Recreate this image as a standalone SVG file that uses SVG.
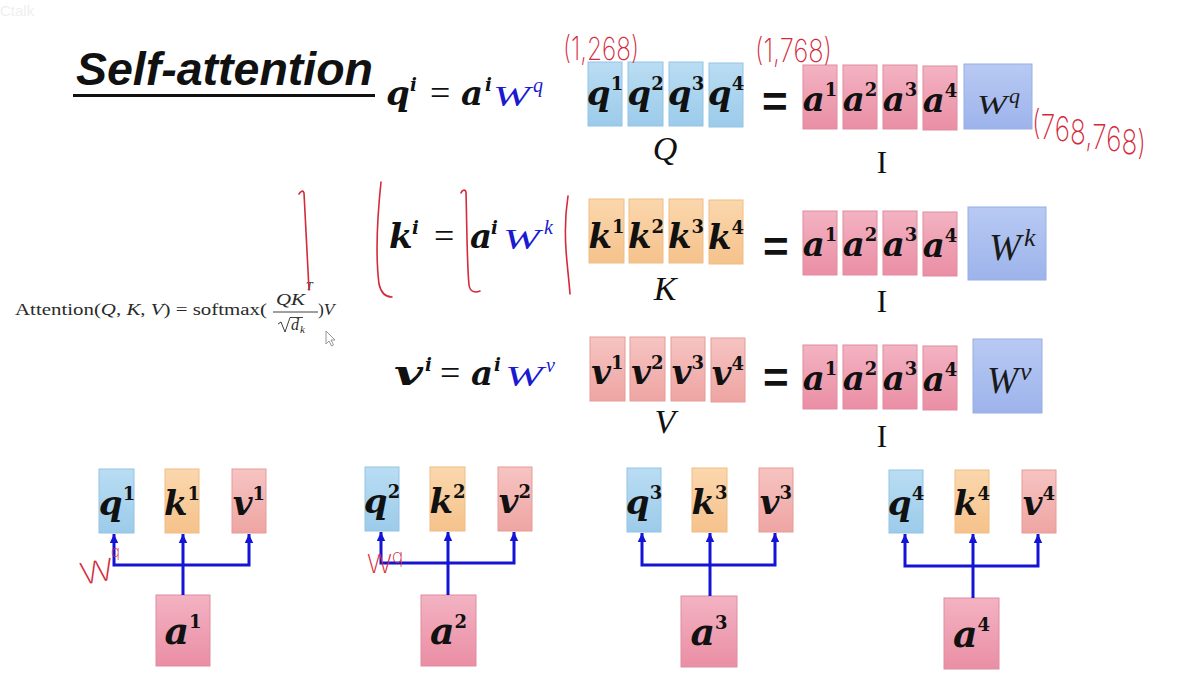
<svg xmlns="http://www.w3.org/2000/svg" width="1178" height="689" viewBox="0 0 1178 689">
<defs>
<linearGradient id="gq" x1="0" y1="0" x2="0" y2="1"><stop offset="0" stop-color="#b9ddf3"/><stop offset="1" stop-color="#9ccbea"/></linearGradient>
<linearGradient id="gk" x1="0" y1="0" x2="0" y2="1"><stop offset="0" stop-color="#fbd7ad"/><stop offset="1" stop-color="#f5c28b"/></linearGradient>
<linearGradient id="gv" x1="0" y1="0" x2="0" y2="1"><stop offset="0" stop-color="#f6c4c2"/><stop offset="1" stop-color="#eea5a2"/></linearGradient>
<linearGradient id="ga" x1="0" y1="0" x2="0" y2="1"><stop offset="0" stop-color="#f3b3c2"/><stop offset="1" stop-color="#ea8ea5"/></linearGradient>
<linearGradient id="gw" x1="0" y1="0" x2="0" y2="1"><stop offset="0" stop-color="#b8caf3"/><stop offset="1" stop-color="#9db3eb"/></linearGradient>
<marker id="ar" viewBox="0 0 9 9" refX="9" refY="4.5" markerWidth="9" markerHeight="9" markerUnits="userSpaceOnUse" orient="auto"><path d="M0,0.3 L9,4.5 L0,8.7 z" fill="#1414d4"/></marker>
</defs>
<style>
.qb{fill:url(#gq);stroke:#93c3e4;stroke-width:1}
.kb{fill:url(#gk);stroke:#efbd86;stroke-width:1}
.vb{fill:url(#gv);stroke:#e59c99;stroke-width:1}
.ab{fill:url(#ga);stroke:#e08ba0;stroke-width:1}
.wb{fill:url(#gw);stroke:#98aee4;stroke-width:1}
.m{font-family:"DejaVu Serif",serif;font-weight:bold;font-style:italic;font-size:34px;fill:#111}
.s{font-size:18px;font-style:normal}
.si{font-size:18px}
.ba{font-size:38px}
.w{font-family:"Liberation Serif",serif;font-style:italic;font-weight:normal;fill:#1a1ad0}
.wk{font-family:"Liberation Serif",serif;font-style:italic;font-weight:normal;fill:#1a1a1a}
.req{font-family:"Liberation Serif",serif;font-size:36px;fill:#111}
.lbl{font-family:"Liberation Serif",serif;font-style:italic;font-size:34px;fill:#111;text-anchor:middle}
.I{font-family:"Liberation Serif",serif;font-size:31px;fill:#111;text-anchor:middle}
.eq{font-family:"Liberation Sans",sans-serif;font-weight:bold;font-size:44px;fill:#111}
.hw{font-family:Inter,"DejaVu Sans",sans-serif;font-weight:200;fill:#d42a3c}
.red{fill:none;stroke:#d42a3c;stroke-width:1.6;stroke-linecap:round;stroke-linejoin:round}
.f{font-family:"Liberation Serif",serif;fill:#2a2a2a}
.c{fill:none;stroke:#1414d4;stroke-width:3;stroke-linejoin:miter}
</style>
<rect width="1178" height="689" fill="#ffffff"/>
<text x="0" y="16" font-family="Liberation Sans,sans-serif" font-size="15" fill="#efefef">Ctalk</text>

<g id="title">
<text x="76" y="85" font-family="Liberation Sans,sans-serif" font-weight="bold" font-style="italic" font-size="47" fill="#111" textLength="297" lengthAdjust="spacingAndGlyphs">Self-attention</text>
<rect x="73" y="94" width="302" height="3" fill="#111"/>
</g>

<g id="formula-q">
<text class="m" x="386" y="105">q</text><text class="m si" x="410" y="91">i</text>
<text class="req" x="430" y="105">=</text>
<text class="m" x="461" y="105">a</text><text class="m si" x="485" y="91">i</text>
<text class="w" x="493" y="106" font-size="30" textLength="37" lengthAdjust="spacingAndGlyphs">W</text><text class="w" x="533" y="92" font-size="20">q</text>
</g>
<g id="formula-k">
<text class="m" x="389" y="248">k</text><text class="m si" x="412" y="234">i</text>
<text class="req" x="434" y="248">=</text>
<text class="m" x="470" y="248">a</text><text class="m si" x="491" y="234">i</text>
<text class="w" x="503" y="249" font-size="30" textLength="37" lengthAdjust="spacingAndGlyphs">W</text><text class="w" x="544" y="234" font-size="20">k</text>
</g>
<g id="formula-v">
<text class="m" x="394" y="385" textLength="29" lengthAdjust="spacingAndGlyphs">v</text><text class="m si" x="425" y="371">i</text>
<text class="req" x="440" y="385">=</text>
<text class="m" x="471" y="385">a</text><text class="m si" x="494" y="371">i</text>
<text class="w" x="505" y="386" font-size="30" textLength="38" lengthAdjust="spacingAndGlyphs">W</text><text class="w" x="546" y="372" font-size="20">v</text>
</g>

<g id="Q">
<rect class="qb" x="588" y="62" width="34" height="64"/><text class="m" x="605" y="105" text-anchor="middle">q<tspan class="s" dy="-15">1</tspan></text>
<rect class="qb" x="628" y="62" width="35" height="64"/><text class="m" x="645.5" y="105" text-anchor="middle">q<tspan class="s" dy="-15">2</tspan></text>
<rect class="qb" x="669" y="62" width="34" height="64"/><text class="m" x="686" y="105" text-anchor="middle">q<tspan class="s" dy="-15">3</tspan></text>
<rect class="qb" x="709" y="63" width="34" height="64"/><text class="m" x="726" y="105" text-anchor="middle">q<tspan class="s" dy="-15">4</tspan></text>
<text class="lbl" x="665" y="160">Q</text>
</g>
<g id="K">
<rect class="kb" x="589" y="199" width="35" height="64"/><text class="m" x="606.5" y="248" text-anchor="middle">k<tspan class="s" dy="-15">1</tspan></text>
<rect class="kb" x="629" y="199" width="34" height="64"/><text class="m" x="646" y="248" text-anchor="middle">k<tspan class="s" dy="-15">2</tspan></text>
<rect class="kb" x="669" y="199" width="34" height="64"/><text class="m" x="686" y="248" text-anchor="middle">k<tspan class="s" dy="-15">3</tspan></text>
<rect class="kb" x="709" y="200" width="34" height="64"/><text class="m" x="726" y="249" text-anchor="middle">k<tspan class="s" dy="-15">4</tspan></text>
<text class="lbl" x="665" y="300">K</text>
</g>
<g id="V">
<rect class="vb" x="590" y="337" width="35" height="64"/><text class="m" x="607.5" y="384" text-anchor="middle">v<tspan class="s" dy="-15">1</tspan></text>
<rect class="vb" x="630" y="337" width="35" height="64"/><text class="m" x="647.5" y="384" text-anchor="middle">v<tspan class="s" dy="-15">2</tspan></text>
<rect class="vb" x="671" y="337" width="34" height="64"/><text class="m" x="688" y="384" text-anchor="middle">v<tspan class="s" dy="-15">3</tspan></text>
<rect class="vb" x="711" y="338" width="34" height="64"/><text class="m" x="728" y="385" text-anchor="middle">v<tspan class="s" dy="-15">4</tspan></text>
<text class="lbl" x="665" y="433">V</text>
</g>

<g id="eq-signs">
<text class="eq" x="762" y="117">=</text>
<text class="eq" x="763" y="262">=</text>
<text class="eq" x="763" y="393">=</text>
</g>

<g id="I-q">
<rect class="ab" x="803" y="65" width="34" height="64"/><text class="m" x="820" y="111" text-anchor="middle">a<tspan class="s" dy="-15">1</tspan></text>
<rect class="ab" x="843" y="65" width="34" height="64"/><text class="m" x="860" y="111" text-anchor="middle">a<tspan class="s" dy="-15">2</tspan></text>
<rect class="ab" x="883" y="65" width="34" height="64"/><text class="m" x="900" y="111" text-anchor="middle">a<tspan class="s" dy="-15">3</tspan></text>
<rect class="ab" x="923" y="66" width="34" height="64"/><text class="m" x="940" y="112" text-anchor="middle">a<tspan class="s" dy="-15">4</tspan></text>
<text class="I" x="882" y="173">I</text>
</g>
<g id="Wq">
<rect class="wb" x="964" y="64" width="68" height="65"/>
<text class="wk" x="977" y="114" font-size="28" textLength="30" lengthAdjust="spacingAndGlyphs">W</text><text class="wk" x="1009" y="103" font-size="22">q</text>
</g>
<g id="I-k">
<rect class="ab" x="803" y="211" width="34" height="64"/><text class="m" x="820" y="256" text-anchor="middle">a<tspan class="s" dy="-15">1</tspan></text>
<rect class="ab" x="843" y="211" width="34" height="64"/><text class="m" x="860" y="256" text-anchor="middle">a<tspan class="s" dy="-15">2</tspan></text>
<rect class="ab" x="883" y="211" width="34" height="64"/><text class="m" x="900" y="256" text-anchor="middle">a<tspan class="s" dy="-15">3</tspan></text>
<rect class="ab" x="923" y="212" width="34" height="64"/><text class="m" x="940" y="257" text-anchor="middle">a<tspan class="s" dy="-15">4</tspan></text>
<text class="I" x="882" y="312">I</text>
</g>
<g id="Wk">
<rect class="wb" x="968" y="207" width="78" height="73"/>
<text class="wk" x="989" y="260" font-size="37" textLength="32" lengthAdjust="spacingAndGlyphs">W</text><text class="wk" x="1024" y="246" font-size="26">k</text>
</g>
<g id="I-v">
<rect class="ab" x="803" y="345" width="34" height="64"/><text class="m" x="820" y="390" text-anchor="middle">a<tspan class="s" dy="-15">1</tspan></text>
<rect class="ab" x="843" y="345" width="34" height="64"/><text class="m" x="860" y="390" text-anchor="middle">a<tspan class="s" dy="-15">2</tspan></text>
<rect class="ab" x="883" y="345" width="34" height="64"/><text class="m" x="900" y="390" text-anchor="middle">a<tspan class="s" dy="-15">3</tspan></text>
<rect class="ab" x="923" y="346" width="34" height="64"/><text class="m" x="940" y="391" text-anchor="middle">a<tspan class="s" dy="-15">4</tspan></text>
<text class="I" x="882" y="447">I</text>
</g>
<g id="Wv">
<rect class="wb" x="973" y="339" width="69" height="74"/>
<text class="wk" x="987" y="393" font-size="37" textLength="31" lengthAdjust="spacingAndGlyphs">W</text><text class="wk" x="1020" y="380" font-size="26">v</text>
</g>

<g id="attention-formula">
<text class="f" x="15" y="315" font-size="17.5" textLength="252" lengthAdjust="spacingAndGlyphs">Attention(<tspan font-style="italic">Q</tspan>, <tspan font-style="italic">K</tspan>, <tspan font-style="italic">V</tspan>) = softmax(</text>
<text class="f" x="276" y="305" font-size="17.5" font-style="italic" textLength="29" lengthAdjust="spacingAndGlyphs">QK</text>
<text class="f" x="306" y="290" font-size="12" font-style="italic">T</text>
<line x1="273" y1="312" x2="318" y2="312" stroke="#2a2a2a" stroke-width="0.9"/>
<path d="M278,324 L281,322 L285,332 L290,317.5 L303,317.5" fill="none" stroke="#2a2a2a" stroke-width="0.9"/>
<text class="f" x="291" y="330" font-size="16" font-style="italic">d</text>
<text class="f" x="300" y="333" font-size="11" font-style="italic">k</text>
<text class="f" x="318" y="315" font-size="17.5">)<tspan font-style="italic">V</tspan></text>
<path d="M326,331 L326,344 L329,341 L331.5,346 L333.5,345 L331,340 L335,340 Z" fill="#fff" stroke="#8a8a8a" stroke-width="0.9"/>
</g>

<g id="group1">
<rect class="qb" x="99" y="469" width="35" height="64"/><text class="m" x="117" y="515" text-anchor="middle">q<tspan class="s" dy="-15">1</tspan></text>
<rect class="kb" x="165" y="469" width="34" height="64"/><text class="m" x="182" y="515" text-anchor="middle">k<tspan class="s" dy="-15">1</tspan></text>
<rect class="vb" x="232" y="469" width="34" height="64"/><text class="m" x="249" y="515" text-anchor="middle">v<tspan class="s" dy="-15">1</tspan></text>
<rect class="ab" x="156" y="595" width="54" height="71"/><text class="m ba" x="183" y="644" text-anchor="middle">a<tspan class="s" font-size="20" dy="-16">1</tspan></text>
</g>
<g id="group2">
<rect class="qb" x="365" y="467" width="34" height="64"/><text class="m" x="382" y="513" text-anchor="middle">q<tspan class="s" dy="-15">2</tspan></text>
<rect class="kb" x="430" y="467" width="35" height="64"/><text class="m" x="447.5" y="513" text-anchor="middle">k<tspan class="s" dy="-15">2</tspan></text>
<rect class="vb" x="498" y="467" width="34" height="64"/><text class="m" x="515" y="513" text-anchor="middle">v<tspan class="s" dy="-15">2</tspan></text>
<rect class="ab" x="421" y="595" width="55" height="71"/><text class="m ba" x="448.5" y="644" text-anchor="middle">a<tspan class="s" font-size="20" dy="-16">2</tspan></text>
</g>
<g id="group3">
<rect class="qb" x="627" y="468" width="34" height="64"/><text class="m" x="644" y="514" text-anchor="middle">q<tspan class="s" dy="-15">3</tspan></text>
<rect class="kb" x="692" y="468" width="35" height="64"/><text class="m" x="709.5" y="514" text-anchor="middle">k<tspan class="s" dy="-15">3</tspan></text>
<rect class="vb" x="759" y="468" width="34" height="64"/><text class="m" x="776" y="514" text-anchor="middle">v<tspan class="s" dy="-15">3</tspan></text>
<rect class="ab" x="681" y="596" width="56" height="71"/><text class="m ba" x="709" y="645" text-anchor="middle">a<tspan class="s" font-size="20" dy="-16">3</tspan></text>
</g>
<g id="group4">
<rect class="qb" x="889" y="470" width="34" height="63"/><text class="m" x="906" y="515" text-anchor="middle">q<tspan class="s" dy="-15">4</tspan></text>
<rect class="kb" x="955" y="470" width="34" height="63"/><text class="m" x="972" y="515" text-anchor="middle">k<tspan class="s" dy="-15">4</tspan></text>
<rect class="vb" x="1022" y="470" width="34" height="63"/><text class="m" x="1039" y="515" text-anchor="middle">v<tspan class="s" dy="-15">4</tspan></text>
<rect class="ab" x="944" y="598" width="55" height="71"/><text class="m ba" x="971.5" y="647" text-anchor="middle">a<tspan class="s" font-size="20" dy="-16">4</tspan></text>
</g>

<g id="connectors">
<path class="c" d="M183,565 H114 V534" marker-end="url(#ar)"/>
<path class="c" d="M183,565 H249 V534" marker-end="url(#ar)"/>
<path class="c" d="M183,595 V534" marker-end="url(#ar)"/>
<path class="c" d="M448,563 H381 V532" marker-end="url(#ar)"/>
<path class="c" d="M448,563 H514 V532" marker-end="url(#ar)"/>
<path class="c" d="M448,595 V532" marker-end="url(#ar)"/>
<path class="c" d="M710,565 H642 V533" marker-end="url(#ar)"/>
<path class="c" d="M710,565 H775 V533" marker-end="url(#ar)"/>
<path class="c" d="M710,596 V533" marker-end="url(#ar)"/>
<path class="c" d="M973,566 H905 V534" marker-end="url(#ar)"/>
<path class="c" d="M973,566 H1038 V534" marker-end="url(#ar)"/>
<path class="c" d="M973,598 V534" marker-end="url(#ar)"/>
</g>

<g id="annotations">
<text class="hw" x="563" y="60" font-size="32" textLength="76" lengthAdjust="spacingAndGlyphs">(1,268)</text>
<text class="hw" x="755" y="62" font-size="32" textLength="77" lengthAdjust="spacingAndGlyphs">(1,768)</text>
<text class="hw" x="1032" y="136" font-size="34" dy="0 2.5 2.5 2.5 2.5 2.5 2.5 2.5 2.5" textLength="114" lengthAdjust="spacingAndGlyphs">(768,768)</text>
<text class="hw" x="82" y="585" font-size="30" textLength="34" lengthAdjust="spacingAndGlyphs" transform="rotate(-10 82 585)">W</text>
<text class="hw" x="111" y="557" font-size="15">q</text>
<text class="hw" x="367" y="573" font-size="26" textLength="25" lengthAdjust="spacingAndGlyphs">W</text>
<text class="hw" x="392" y="563" font-size="19">q</text>
<path class="red" d="M299,194 C301,191 303,190 304,193 L309,290"/>
<path class="red" d="M381,182 C377,220 376,260 379,284 C381,293 386,297 392,297"/>
<path class="red" d="M461,193 C462,190 465,189 466,192 C467,230 467,265 469,285 C470,292 475,293 480,291"/>
<path class="red" d="M568,196 C565,215 565,235 566,250 C567,265 569,280 570,294"/>
</g>
</svg>
